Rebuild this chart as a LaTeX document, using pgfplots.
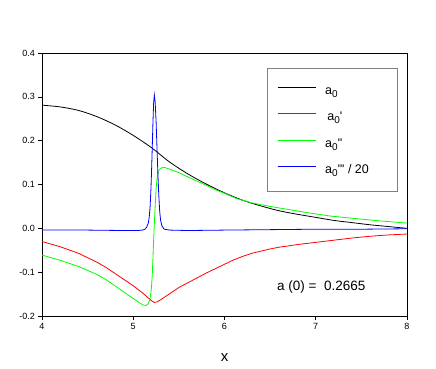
\documentclass[border=0pt]{standalone}
\usepackage{fontspec}
\setmainfont{Liberation Sans}
\usepackage{pgfplots}
\pgfplotsset{compat=1.18}
\definecolor{brgreen}{RGB}{0,255,0}
\newcommand{\sub}{\raisebox{-3pt}{\fontsize{10}{11}\selectfont 0}}
\newcommand{\cell}[1]{\makebox[62pt][l]{\rule[-3.5pt]{0pt}{13pt}#1}}
\begin{document}
\begin{tikzpicture}
\useasboundingbox (-42pt,-53pt) rectangle (394pt,316pt);
\begin{axis}[
  at={(0pt,0pt)}, anchor=south west,
  scale only axis, width=365pt, height=263pt,
  xmin=4, xmax=8, ymin=-0.2, ymax=0.4,
  xtick={4,5,6,7,8},
  ytick={-0.2,-0.1,0,0.1,0.2,0.3,0.4},
  yticklabels={-0.2,-0.1,0.0,0.1,0.2,0.3,0.4},
  xtick pos=bottom, ytick pos=left,
  tick align=outside, major tick length=3.5pt,
  tick style={black, line width=0.6pt},
  axis line style={line width=0.8pt},
  tick label style={font=\fontsize{9}{10}\selectfont},
  /pgf/number format/assume math mode=true,
  xlabel={x},
  xlabel style={font=\fontsize{15}{16}\selectfont, at={(axis description cs:0.5,0)}, anchor=center, yshift=-42pt},
  legend cell align=left,
  legend image code/.code={\draw[#1, line width=1.1pt] (0pt,3pt) -- (38pt,3pt);},
  legend style={at={(axis description cs:0.616,0.942)}, anchor=north west,
    draw=gray, line width=0.6pt, inner xsep=10pt, inner ysep=16pt,
    font=\fontsize{12.5}{14}\selectfont, row sep=15.5pt, column sep=9pt,
    nodes={inner sep=0pt}},
]
% a0
\addplot[black, line width=0.8pt, smooth] coordinates {
  (4.0,0.281) (4.2,0.277) (4.4,0.269) (4.6,0.255) (4.8,0.236) (5.0,0.212)
  (5.2,0.184) (5.4,0.151) (5.6,0.124) (5.8,0.101) (6.0,0.081) (6.2,0.064)
  (6.4,0.051) (6.6,0.040) (6.8,0.032) (7.0,0.025) (7.2,0.018) (7.4,0.013)
  (7.6,0.008) (7.8,0.004) (8.0,0.000)
};
\addlegendentry{\cell{a\sub}}
% a0'
\addplot[red, line width=0.8pt] coordinates {
  (4.0,-0.030) (4.2,-0.042) (4.4,-0.057) (4.6,-0.077) (4.7,-0.089) (4.8,-0.103)
  (4.9,-0.117) (5.0,-0.131) (5.1,-0.147) (5.15,-0.156) (5.2,-0.165) (5.23,-0.169)
  (5.26,-0.168) (5.3,-0.163) (5.4,-0.149) (5.5,-0.135) (5.6,-0.124) (5.7,-0.113)
  (5.8,-0.102) (5.9,-0.092) (6.0,-0.082) (6.1,-0.072) (6.2,-0.064) (6.3,-0.057)
  (6.4,-0.052) (6.5,-0.047) (6.6,-0.043) (6.8,-0.037) (7.0,-0.032) (7.2,-0.027)
  (7.4,-0.022) (7.6,-0.018) (7.8,-0.015) (8.0,-0.013)
};
\addlegendentry{\cell{\,a\sub\textquotesingle}}
% a0''
\addplot[brgreen, line width=0.8pt] coordinates {
  (4.0,-0.061) (4.2,-0.073) (4.4,-0.087) (4.6,-0.105) (4.7,-0.117) (4.8,-0.131)
  (4.9,-0.146) (5.0,-0.160) (5.07,-0.170) (5.11,-0.175) (5.14,-0.176) (5.165,-0.172)
  (5.185,-0.160) (5.20,-0.135) (5.21,-0.100) (5.22,-0.045) (5.23,0.005)
  (5.24,0.050) (5.25,0.088) (5.26,0.112) (5.27,0.126) (5.285,0.134) (5.31,0.138)
  (5.34,0.139) (5.4,0.135) (5.5,0.127) (5.6,0.117) (5.75,0.103) (5.9,0.088)
  (6.0,0.080) (6.13,0.068) (6.3,0.058) (6.5,0.050) (6.7,0.043) (6.9,0.036)
  (7.16,0.028) (7.4,0.023) (7.7,0.017) (8.0,0.012)
};
\addlegendentry{\cell{a\sub\textquotedbl}}
% a0''' / 20
\addplot[blue, line width=0.8pt] coordinates {
  (4.0,-0.004) (4.5,-0.004) (4.9,-0.005) (5.05,-0.005) (5.1,-0.004) (5.13,-0.002)
  (5.15,0.004) (5.165,0.012) (5.175,0.025) (5.185,0.050) (5.195,0.095) (5.205,0.160)
  (5.215,0.235) (5.223,0.285) (5.231,0.304) (5.24,0.288) (5.25,0.245) (5.26,0.185)
  (5.27,0.125) (5.28,0.075) (5.29,0.038) (5.30,0.018) (5.315,0.005) (5.34,-0.002)
  (5.4,-0.004) (5.6,-0.005) (6.0,-0.004) (6.5,-0.003) (7.0,-0.002) (7.5,-0.002)
  (8.0,-0.001)
};
\addlegendentry{\cell{a\sub\textquotedbl\textquotesingle\ / 20}}
\node[anchor=west, font=\fontsize{13.5}{15}\selectfont, inner sep=0pt]
  at (axis cs:6.575,-0.134) {a (0) =~~0.2665};
\end{axis}
\end{tikzpicture}
\end{document}
